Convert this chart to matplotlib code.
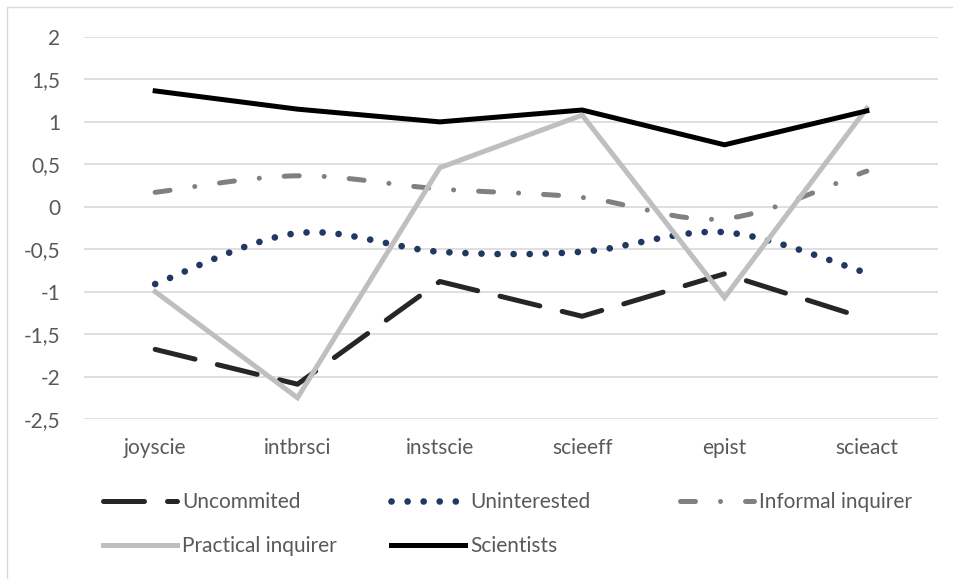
import matplotlib

matplotlib.use("Agg")

import matplotlib.pyplot as plt
from matplotlib.path import Path
from matplotlib.patches import PathPatch, Rectangle
from matplotlib.lines import Line2D

plt.rcParams["font.family"] = ["Lato", "DejaVu Sans"]

categories = ["joyscie", "intbrsci", "instscie", "scieeff", "epist", "scieact"]
uncommited = [-1.68, -2.09, -0.88, -1.29, -0.79, -1.32]
uninterested = [-0.91, -0.31, -0.53, -0.53, -0.30, -0.78]
informal = [0.17, 0.365, 0.21, 0.11, -0.14, 0.42]
practical = [-1.0, -2.25, 0.46, 1.08, -1.07, 1.16]
scientists = [1.365, 1.15, 1.0, 1.14, 0.73, 1.13]
yticks = [2, 1.5, 1, 0.5, 0, -0.5, -1, -1.5, -2, -2.5]

FS = 15
styles = {
    "Uncommited": dict(color="#262626", ls=(0, (8.2, 4.6)), cap="round", lw=3.6),
    "Uninterested": dict(color="#1F3864", ls=(0, (0.01, 2.4)), cap="round", lw=4.8),
    "Informal inquirer": dict(color="#808080", ls=(0, (3, 5, 0.01, 5)), cap="round", lw=3.6),
    "Practical inquirer": dict(color="#BFBFBF", ls="-", cap="butt", lw=3.6),
    "Scientists": dict(color="#000000", ls="-", cap="butt", lw=3.6),
}


def smooth_path(xs, ys):
    # Excel-style smoothed line: cubic Bezier through each point
    verts = [(xs[0], ys[0])]
    codes = [Path.MOVETO]
    n = len(xs)
    for i in range(n - 1):
        p0 = (xs[max(i - 1, 0)], ys[max(i - 1, 0)])
        p1 = (xs[i], ys[i])
        p2 = (xs[i + 1], ys[i + 1])
        p3 = (xs[min(i + 2, n - 1)], ys[min(i + 2, n - 1)])
        c1 = (p1[0] + (p2[0] - p0[0]) / 6, p1[1] + (p2[1] - p0[1]) / 6)
        c2 = (p2[0] - (p3[0] - p1[0]) / 6, p2[1] - (p3[1] - p1[1]) / 6)
        verts += [c1, c2, p2]
        codes += [Path.CURVE4] * 3
    return Path(verts, codes)


fig = plt.figure(figsize=(9.54, 5.79), dpi=100)
ax = fig.add_axes([84 / 954, 1 - 419 / 579, 854 / 954, 382 / 579])

x = list(range(len(categories)))

series = [
    ("Uncommited", uncommited, False),
    ("Uninterested", uninterested, True),
    ("Informal inquirer", informal, True),
    ("Practical inquirer", practical, False),
    ("Scientists", scientists, False),
]

handles = {}
for name, vals, smooth in series:
    st = styles[name]
    if smooth:
        patch = PathPatch(smooth_path(x, vals), fill=False, edgecolor=st["color"],
                          lw=st["lw"], linestyle=st["ls"], capstyle=st["cap"], zorder=3)
        ax.add_patch(patch)
    else:
        ax.plot(x, vals, color=st["color"], lw=st["lw"], linestyle=st["ls"],
                dash_capstyle=st["cap"], solid_joinstyle="miter", zorder=3)
    handles[name] = Line2D([], [], color=st["color"], lw=st["lw"], linestyle=st["ls"],
                           dash_capstyle=st["cap"])

ax.set_xlim(-0.5, len(categories) - 0.5)
ax.set_ylim(-2.5, 2)
ax.set_xticks(x)
ax.set_xticklabels(categories)
ax.set_yticks(yticks)
ax.set_yticklabels([str(v).replace(".", ",") for v in yticks])
ax.tick_params(axis="both", length=0, labelsize=FS, colors="#595959")
ax.tick_params(axis="x", pad=14)
ax.tick_params(axis="y", pad=17)
ax.grid(axis="y", color="#D9D9D9", lw=1.2)
ax.set_axisbelow(True)
for s in ax.spines.values():
    s.set_visible(False)

columns = [
    (103, ["Uncommited", "Practical inquirer"]),
    (391, ["Uninterested", "Scientists"]),
    (680, ["Informal inquirer"]),
]
for xpx, names in columns:
    leg = fig.legend([handles[n] for n in names], names, loc="upper left",
                     bbox_to_anchor=(xpx / 954, 1 - 492 / 579), frameon=False,
                     fontsize=FS, handlelength=3.55, handletextpad=0.25,
                     labelspacing=1.16, borderpad=0, borderaxespad=0)
    for t in leg.get_texts():
        t.set_color("#595959")

fig.add_artist(Rectangle((7 / 954, -10 / 579), 960 / 954, 582 / 579,
                         transform=fig.transFigure, fill=False,
                         edgecolor="#D9D9D9", lw=1))

fig.savefig("out.png", dpi=100)
